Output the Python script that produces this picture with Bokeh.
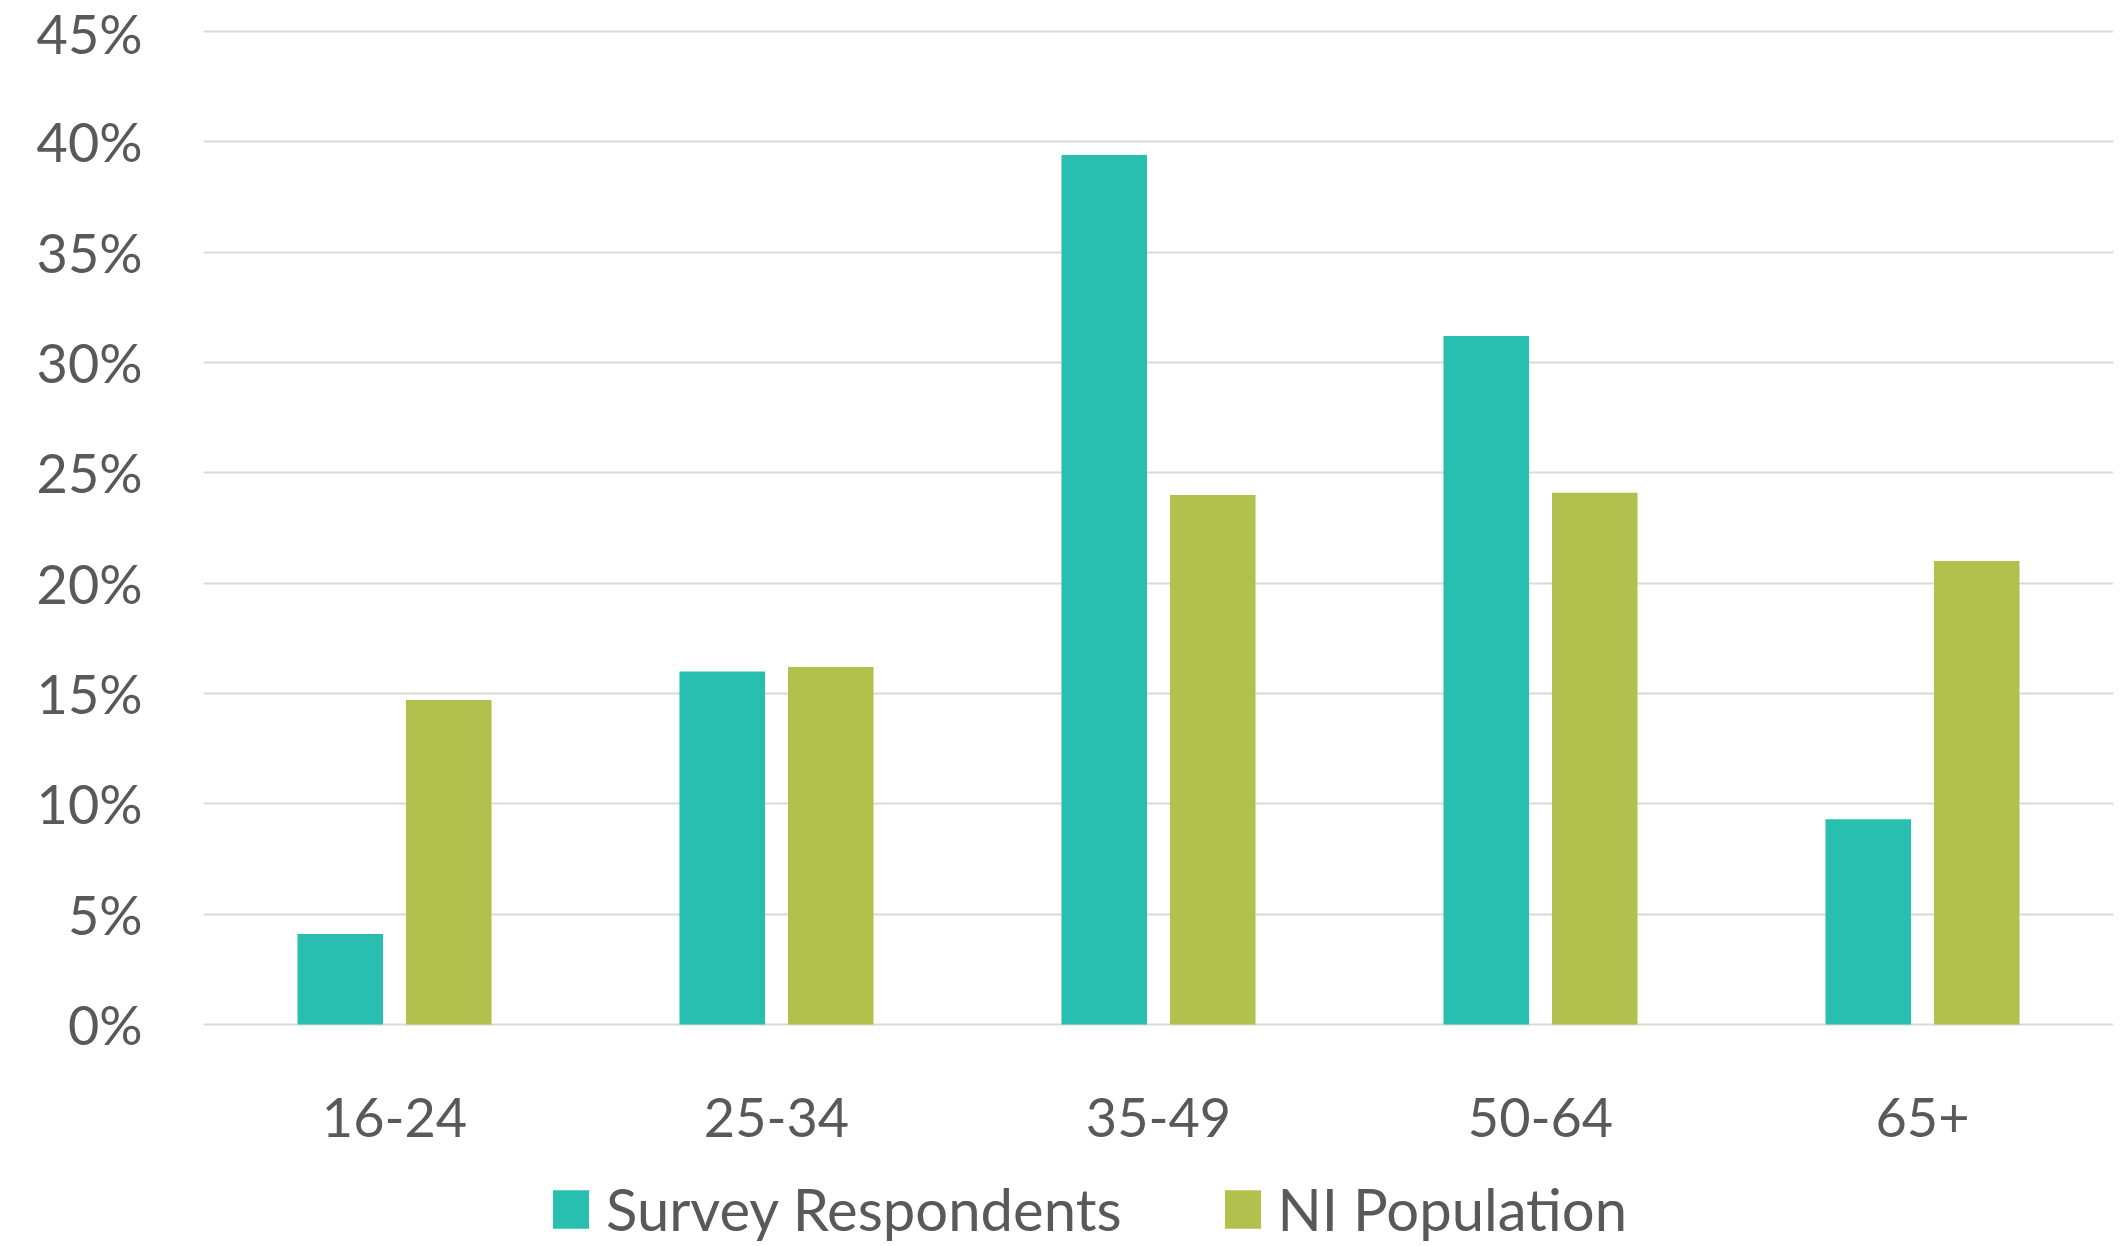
from bokeh.plotting import figure
from bokeh.layouts import column
from bokeh.models import (FactorRange, Range1d, FixedTicker, PrintfTickFormatter,
                          Legend, LegendItem, ColumnDataSource)
from bokeh.transform import dodge
from bokeh.embed import file_html
from bokeh.resources import INLINE

# Age bands and share of each group (%)
age_groups = ["16-24", "25-34", "35-49", "50-64", "65+"]
survey_respondents = [4.1, 16.0, 39.4, 31.2, 9.3]
ni_population = [14.7, 16.2, 24.0, 24.1, 21.0]
y_ticks = [0, 5, 10, 15, 20, 25, 30, 35, 40, 45]
series_names = ["Survey Respondents", "NI Population"]

TEAL = "#29BFB0"
OLIVE = "#B2C04E"
TEXT = "#595959"
GRID = "#D9D9D9"
FONT = "Lato"

source = ColumnDataSource(data=dict(
    age=age_groups, survey=survey_respondents, ni=ni_population))

# --- main bar chart -------------------------------------------------------
p = figure(width=2124, height=1175,
           x_range=FactorRange(*age_groups, range_padding=0),
           y_range=Range1d(-0.5, 45.5),
           min_border_left=203, min_border_right=11,
           min_border_top=20, min_border_bottom=140,
           output_backend="svg", toolbar_location=None)

p.vbar(x=dodge("age", -0.142, range=p.x_range), top="survey",
       bottom=0, width=0.224, source=source,
       fill_color=TEAL, line_color=None)
p.vbar(x=dodge("age", 0.142, range=p.x_range), top="ni",
       bottom=0, width=0.224, source=source,
       fill_color=OLIVE, line_color=None)

p.outline_line_color = None
p.background_fill_color = "white"
p.border_fill_color = "white"

p.xgrid.grid_line_color = None
p.ygrid.grid_line_color = GRID
p.ygrid.grid_line_width = 2

p.yaxis.ticker = FixedTicker(ticks=y_ticks)
p.yaxis.formatter = PrintfTickFormatter(format="%d%%")

for ax in (p.xaxis[0], p.yaxis[0]):
    ax.axis_line_color = None
    ax.major_tick_line_color = None
    ax.minor_tick_line_color = None
    ax.major_tick_in = 0
    ax.major_tick_out = 0
    ax.minor_tick_in = 0
    ax.minor_tick_out = 0
    ax.major_label_text_font = FONT
    ax.major_label_text_font_size = "54px"
    ax.major_label_text_color = TEXT

p.yaxis.major_label_standoff = 61
p.xaxis.major_label_standoff = 62

# --- legend strip under the chart ------------------------------------------
lf = figure(width=2124, height=71, x_range=Range1d(0, 1), y_range=Range1d(0, 1),
            x_axis_location=None, y_axis_location=None,
            min_border=0, output_backend="svg", toolbar_location=None)
lf.grid.visible = False
lf.outline_line_color = None
lf.background_fill_color = "white"
lf.border_fill_color = "white"

# swatch renderers for the legend keys; their single bar lies outside the view
key_src = ColumnDataSource(data=dict(x=[-5.0], top=[-5.0]))
key_survey = lf.vbar(x="x", top="top", bottom=-6, width=0.1, source=key_src,
                     fill_color=TEAL, line_color=None)
key_ni = lf.vbar(x="x", top="top", bottom=-6, width=0.1, source=key_src,
                 fill_color=OLIVE, line_color=None)

legend = Legend(items=[LegendItem(label=series_names[0], renderers=[key_survey]),
                       LegendItem(label=series_names[1], renderers=[key_ni])],
                orientation="horizontal", location=(345, 3),
                glyph_width=45, glyph_height=48, label_standoff=13,
                spacing=98, padding=0, margin=0,
                label_text_font=FONT, label_text_font_size="58px",
                label_text_color=TEXT, border_line_color=None,
                background_fill_alpha=0)
lf.add_layout(legend, "center")

open("out.html", "w").write(file_html(column(p, lf, spacing=0), INLINE))
